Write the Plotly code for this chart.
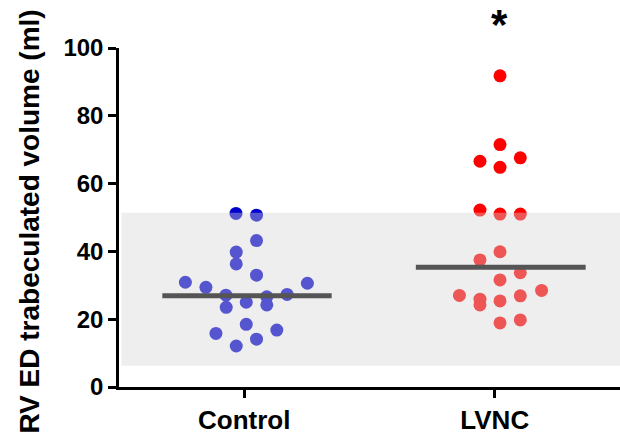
import plotly.graph_objects as go

categories = ["Control", "LVNC"]
cat_pos = [0, 1]

control_values = [51.2, 50.7, 43.2, 39.8, 36.3, 33.0, 30.9, 29.4, 30.6, 27.1,
                  27.3, 26.6, 25.0, 23.5, 24.2, 18.5, 15.8, 16.8, 14.1, 12.1]
control_jitter = [-0.033, 0.049, 0.049, -0.032, -0.032, 0.049, -0.235, -0.153, 0.252, -0.073,
                  0.171, 0.090, 0.008, -0.072, 0.090, 0.008, -0.113, 0.130, 0.049, -0.032]

lvnc_values = [91.8, 71.5, 66.6, 67.6, 64.8, 52.2, 51.0, 51.0, 39.9, 37.5,
               33.7, 31.6, 27.0, 28.5, 25.9, 24.2, 26.9, 25.4, 18.9, 19.8]
lvnc_jitter = [0.021, 0.021, -0.059, 0.102, 0.021, -0.059, 0.021, 0.102, 0.021, -0.059,
               0.102, 0.021, -0.141, 0.187, -0.059, -0.059, 0.102, 0.021, 0.021, 0.102]

medians = [26.9, 35.3]
median_span = [(-0.327, 0.349), (-0.315, 0.363)]
normal_range = [6.3, 51.4]

y_ticks = [0, 20, 40, 60, 80, 100]
y_title = "RV ED trabeculated volume (ml)"
significance = "*"

FONT = "Liberation Sans, Arial, Helvetica, sans-serif"

fig = go.Figure()
fig.add_trace(go.Scatter(
    x=[cat_pos[0] + j for j in control_jitter], y=control_values,
    mode="markers", marker=dict(color="#0000cc", size=13, line=dict(width=0)),
    showlegend=False, cliponaxis=False, hoverinfo="skip"))
fig.add_trace(go.Scatter(
    x=[cat_pos[1] + j for j in lvnc_jitter], y=lvnc_values,
    mode="markers", marker=dict(color="#ff0000", size=13, line=dict(width=0)),
    showlegend=False, cliponaxis=False, hoverinfo="skip"))

# normal range band (semi-transparent, drawn above the points)
fig.add_shape(type="rect", xref="x", yref="y", x0=-0.49, x1=1.5,
              y0=normal_range[0], y1=normal_range[1],
              fillcolor="rgba(212,212,212,0.4)", line=dict(width=0), layer="above")

for p, m, (a, b) in zip(cat_pos, medians, median_span):
    fig.add_shape(type="line", xref="x", yref="y", x0=p + a, x1=p + b, y0=m, y1=m,
                  line=dict(color="#555555", width=5), layer="above")

fig.add_annotation(x=cat_pos[1] + 0.02, y=1.068, xref="x", yref="paper", text=significance,
                   showarrow=False, font=dict(family=FONT, size=42, color="black", weight="bold"),
                   yanchor="middle", xanchor="center")

fig.add_annotation(x=-0.1776, y=0.488, xref="paper", yref="paper", text=y_title,
                   textangle=-90, showarrow=False, xanchor="center", yanchor="middle",
                   font=dict(family=FONT, size=28, color="black", weight="bold"))

fig.update_layout(
    width=620, height=434, autosize=False,
    margin=dict(l=119, r=0, t=48, b=47),
    plot_bgcolor="white", paper_bgcolor="white",
    font=dict(family=FONT, color="black", weight="bold"),
    xaxis=dict(range=[-0.5, 1.5], tickvals=cat_pos, ticktext=categories,
               showgrid=False, zeroline=False, showline=True, linecolor="black", linewidth=2.5,
               ticks="outside", ticklen=8, tickwidth=2.5, tickcolor="black",
               tickfont=dict(family=FONT, size=26, weight="bold")),
    yaxis=dict(range=[0, 100], tickvals=y_ticks,
               showgrid=False, zeroline=False, showline=True, linecolor="black", linewidth=2.5,
               ticks="outside", ticklen=8, tickwidth=2.5, tickcolor="black",
               tickfont=dict(family=FONT, size=24, weight="bold")),
)

fig.write_html("out.html", config={"displayModeBar": False},
               post_script="document.body.style.margin='0';document.body.style.overflow='hidden';")
